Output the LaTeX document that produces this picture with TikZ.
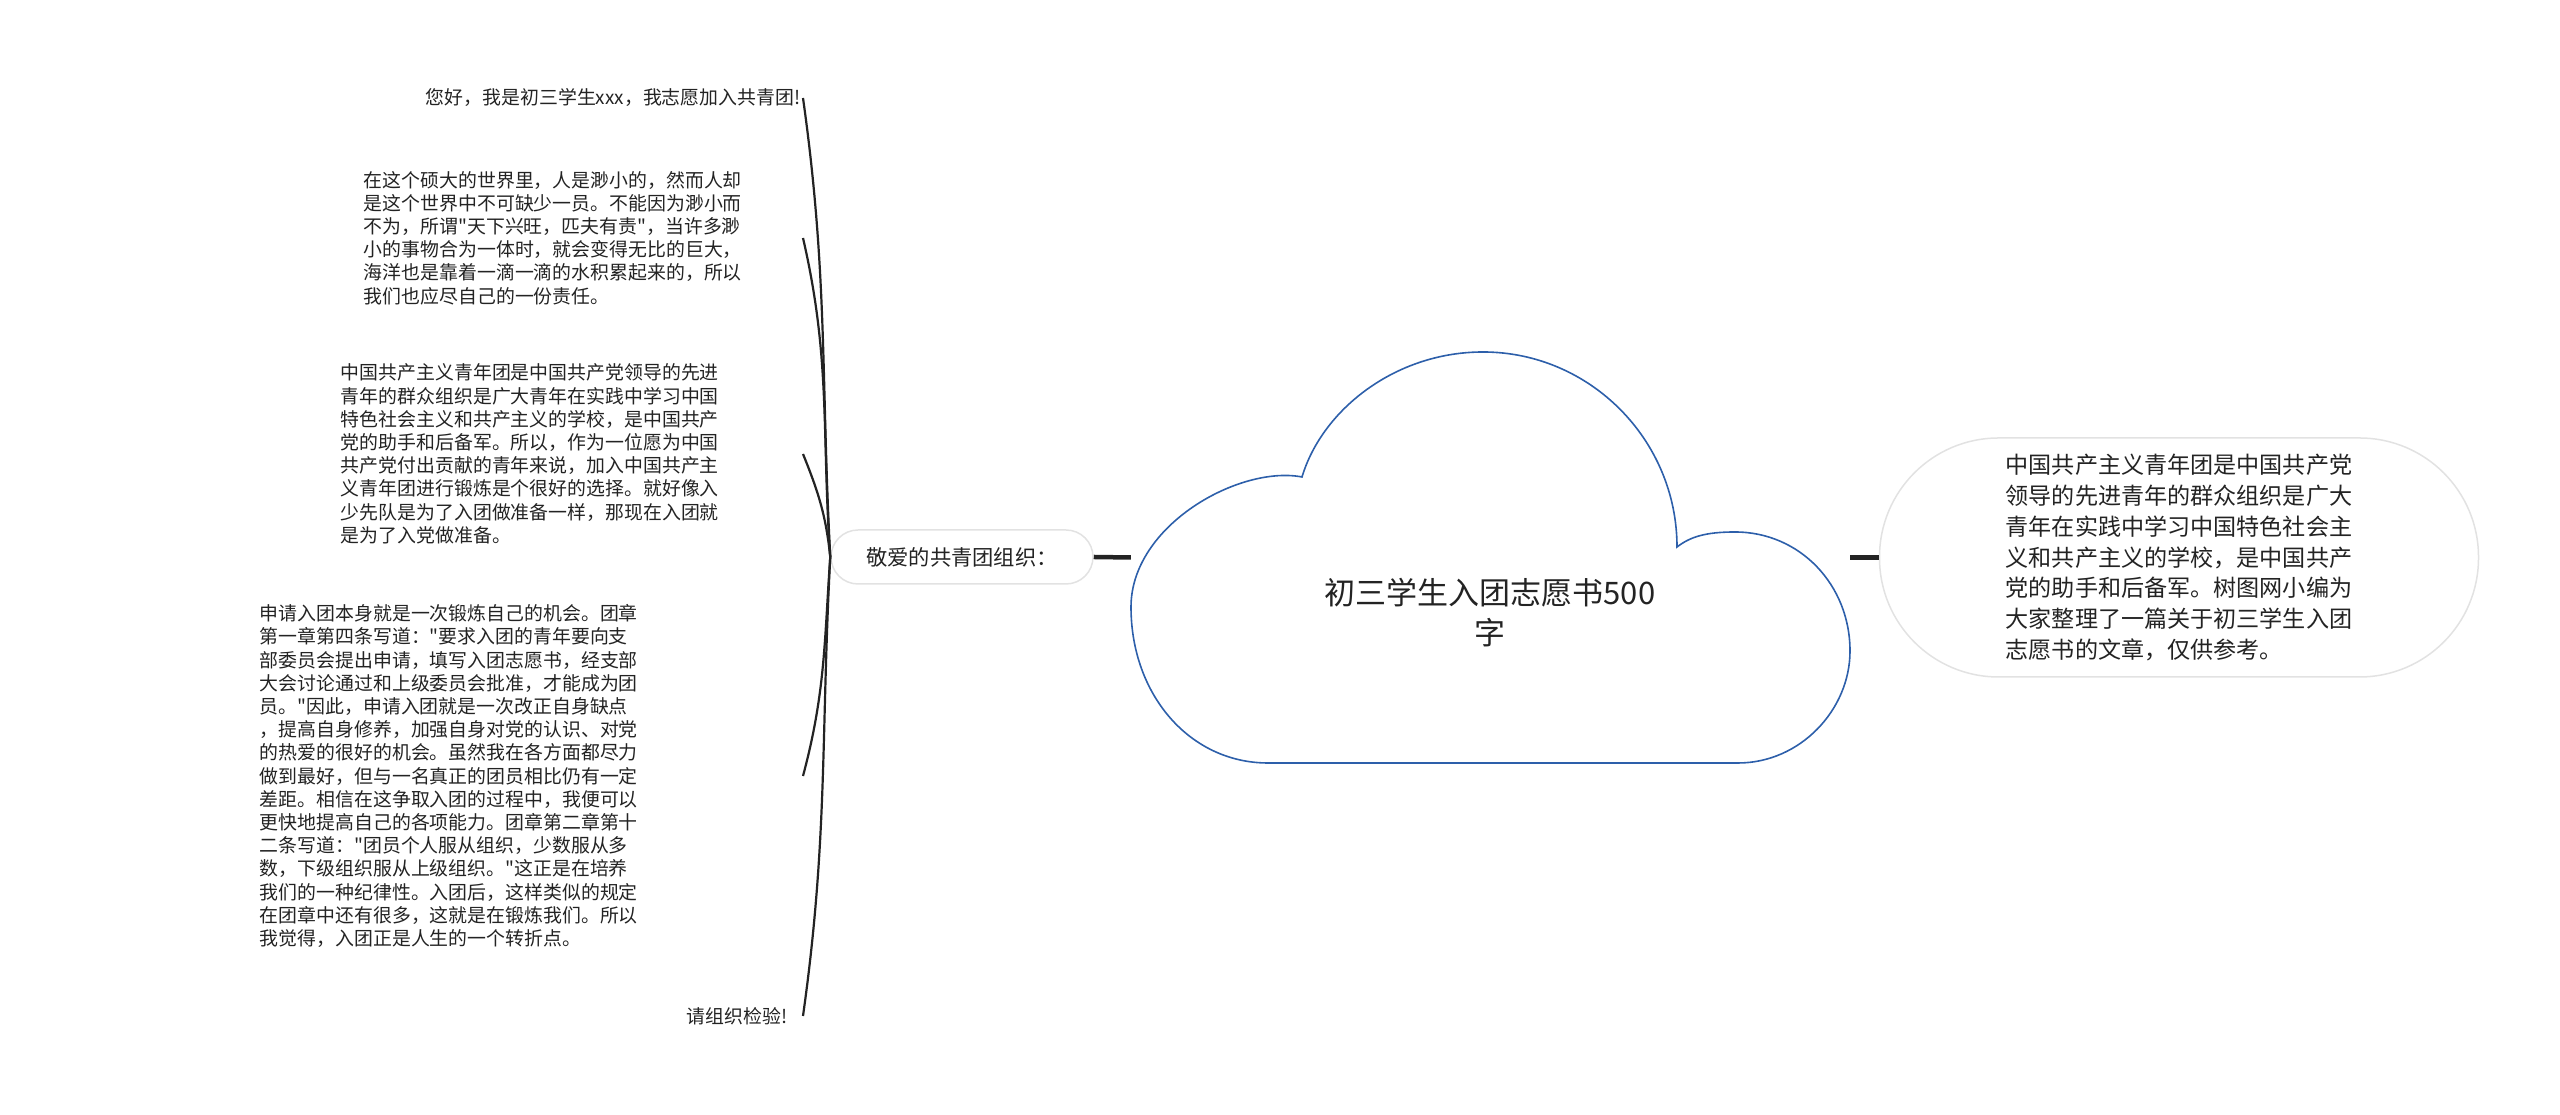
\documentclass[tikz,border=0pt]{standalone}
\usepackage{fontspec}
\setmainfont{Noto Sans CJK SC}[Ligatures=TeXOff]
\definecolor{cloudblue}{RGB}{45,95,170}
\definecolor{pillgray}{RGB}{226,226,226}
\definecolor{inkgray}{RGB}{35,35,35}

\begin{document}
\begin{tikzpicture}[x=1pt,y=1pt,
    leaf/.style={inner sep=0pt, align=left, anchor=east, text=inkgray,
      font=\fontsize{18.9}{23.2}\selectfont},
    pill/.style={draw=pillgray, line width=1.5pt, fill=white,
      rounded corners=#1, inner sep=0pt, text=inkgray},
    branch/.style={line width=2.2pt, draw=inkgray},
    stem/.style={line width=4.5pt, draw=inkgray}]
    \useasboundingbox (0,0) rectangle (2560,1115);

    \draw[cloudblue, line width=1.6pt] (1268,352) -- (1738,352)
      .. controls (1800,352) and (1850,405) .. (1850,464)
      .. controls (1850,530) and (1800,583) .. (1735,583)
      .. controls (1705,583) and (1690,578) .. (1677,568)
      .. controls (1677,675) and (1590,763) .. (1483,763)
      .. controls (1395,763) and (1322,705) .. (1302,638)
      .. controls (1240,650) and (1131,590) .. (1131,508)
      .. controls (1131,420) and (1190,352) .. (1268,352) -- cycle;
    \node[minimum width=719pt, minimum height=411pt, inner sep=0pt] (cloud) at (1490.5,557.5) {};
    \node[align=center, text=inkgray, font=\fontsize{31}{40}\selectfont] (title) at (1490,502)
      {初三学生入团志愿书500\\字};

    \node[pill=27pt, minimum width=262pt, minimum height=54pt,
      font=\fontsize{21.3}{26}\selectfont] (lft) at (962,558) {敬爱的共青团组织：\hspace{4pt}};
    \node[pill=119pt, minimum width=599pt, minimum height=239pt, align=left,
      font=\fontsize{23.1}{30.8}\selectfont] (rgt) at (2179,557.5)
      {中国共产主义青年团是中国共产党\\
       领导的先进青年的群众组织是广大\\
       青年在实践中学习中国特色社会主\\
       义和共产主义的学校，是中国共产\\
       党的助手和后备军。树图网小编为\\
       大家整理了一篇关于初三学生入团\\
       志愿书的文章，仅供参考。};

    \node[leaf, text width=377pt] (ca) at (803,1017)
      {您好，我是初三学生xxx，我志愿加入共青团!};
    \node[leaf, text width=439pt] (cb) at (803,877)
      {在这个硕大的世界里，人是渺小的，然而人却\\
       是这个世界中不可缺少一员。不能因为渺小而\\
       不为，所谓"天下兴旺，匹夫有责"，当许多渺\\
       小的事物合为一体时，就会变得无比的巨大，\\
       海洋也是靠着一滴一滴的水积累起来的，所以\\
       我们也应尽自己的一份责任。};
    \node[leaf, text width=462pt] (cc) at (803,661)
      {中国共产主义青年团是中国共产党领导的先进\\
       青年的群众组织是广大青年在实践中学习中国\\
       特色社会主义和共产主义的学校，是中国共产\\
       党的助手和后备军。所以，作为一位愿为中国\\
       共产党付出贡献的青年来说，加入中国共产主\\
       义青年团进行锻炼是个很好的选择。就好像入\\
       少先队是为了入团做准备一样，那现在入团就\\
       是为了入党做准备。};
    \node[leaf, text width=543pt] (cd) at (803,339)
      {申请入团本身就是一次锻炼自己的机会。团章\\
       第一章第四条写道："要求入团的青年要向支\\
       部委员会提出申请，填写入团志愿书，经支部\\
       大会讨论通过和上级委员会批准，才能成为团\\
       员。"因此，申请入团就是一次改正自身缺点\\
       ，提高自身修养，加强自身对党的认识、对党\\
       的热爱的很好的机会。虽然我在各方面都尽力\\
       做到最好，但与一名真正的团员相比仍有一定\\
       差距。相信在这争取入团的过程中，我便可以\\
       更快地提高自己的各项能力。团章第二章第十\\
       二条写道："团员个人服从组织，少数服从多\\
       数，下级组织服从上级组织。"这正是在培养\\
       我们的一种纪律性。入团后，这样类似的规定\\
       在团章中还有很多，这就是在锻炼我们。所以\\
       我觉得，入团正是人生的一个转折点。};
    \node[leaf, text width=116pt] (ce) at (803,99) {请组织检验!};

    \draw[stem] (lft.east) -- (cloud.west);
    \draw[stem] (cloud.east) -- (rgt.west);

    \draw[branch] (lft.west) to[out=93,in=-82] (ca.east);
    \draw[branch] (lft.west) to[out=94,in=-77] (cb.east);
    \draw[branch] (lft.west) to[out=96,in=-68] (cc.east);
    \draw[branch] (lft.west) to[out=-94,in=75] (cd.east);
    \draw[branch] (lft.west) to[out=-93,in=82] (ce.east);
  \end{tikzpicture}
\end{document}
